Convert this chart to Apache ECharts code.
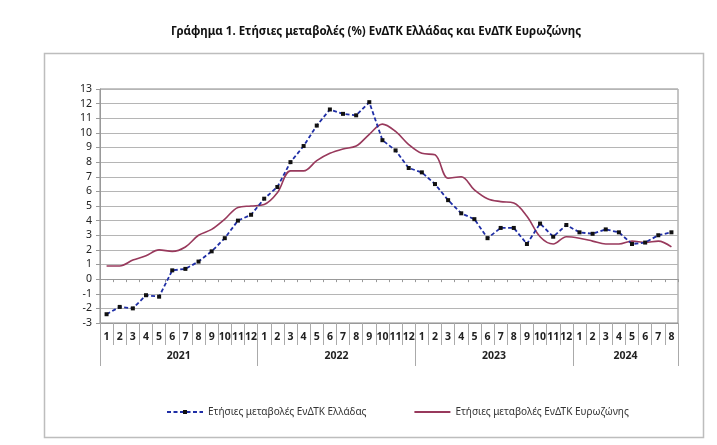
<!DOCTYPE html>
<html><head><meta charset="utf-8">
<script src="https://cdn.jsdelivr.net/npm/echarts@6/dist/echarts.min.js"></script>
<style>html,body{margin:0;padding:0;background:#fff}#c{width:717px;height:445px}</style>
</head><body><div id="c"></div>
<script>
const titleText = 'Γράφημα 1. Ετήσιες μεταβολές (%) ΕνΔΤΚ Ελλάδας και ΕνΔΤΚ Ευρωζώνης';
const years = ['2021', '2022', '2023', '2024'];
const monthsPerYear = [12, 12, 12, 8];
const seriesNames = ['Ετήσιες μεταβολές ΕνΔΤΚ Ελλάδας', 'Ετήσιες μεταβολές ΕνΔΤΚ Ευρωζώνης'];
const greece = [
  -2.4, -1.9, -2.0, -1.1, -1.2, 0.6, 0.7, 1.2, 1.9, 2.8, 4.0, 4.4,
  5.5, 6.3, 8.0, 9.1, 10.5, 11.6, 11.3, 11.2, 12.1, 9.5, 8.8, 7.6,
  7.3, 6.5, 5.4, 4.5, 4.1, 2.8, 3.5, 3.5, 2.4, 3.8, 2.9, 3.7,
  3.2, 3.1, 3.4, 3.2, 2.4, 2.5, 3.0, 3.2
];
const eurozone = [
  0.9, 0.9, 1.3, 1.6, 2.0, 1.9, 2.2, 3.0, 3.4, 4.1, 4.9, 5.0,
  5.1, 5.9, 7.4, 7.4, 8.1, 8.6, 8.9, 9.1, 9.9, 10.6, 10.1, 9.2,
  8.6, 8.5, 6.9, 7.0, 6.1, 5.5, 5.3, 5.2, 4.3, 2.9, 2.4, 2.9,
  2.8, 2.6, 2.4, 2.4, 2.6, 2.5, 2.6, 2.2
];
const yMin = -3, yMax = 13, yStep = 1;

// build category list
const cats = [], monthLabels = [], yearOfIdx = [], yearStart = new Set(), yearCenter = {};
let idx = 0;
years.forEach((y, k) => {
  yearStart.add(idx);
  yearCenter[idx + Math.floor((monthsPerYear[k] - 1) / 2)] = y;
  for (let m = 1; m <= monthsPerYear[k]; m++) {
    cats.push(y + '-' + m); monthLabels.push(String(m)); yearOfIdx.push(y); idx++;
  }
});

const FONT = 'Noto Sans';
const chart = echarts.init(document.getElementById('c'), null, {renderer: 'canvas'});
const option = {
  backgroundColor: '#fff',
  animation: false,
  textStyle: {fontFamily: FONT},
  title: {
    text: titleText, left: 371, top: 21, textAlign: 'center',
    textStyle: {fontFamily: FONT, fontSize: 11.5, fontWeight: 'bold', color: '#111'}
  },
  graphic: [{
    type: 'rect', shape: {x: 44.5, y: 53.5, width: 659, height: 384},
    style: {fill: null, stroke: '#bdbdbd', lineWidth: 1.5}, silent: true, z: -1
  }],
  legend: {
    left: 161, top: 402, itemGap: 47, itemWidth: 36, itemHeight: 5,
    textStyle: {fontFamily: FONT, fontSize: 10, color: '#333'},
    data: [
      {name: seriesNames[0]},
      {name: seriesNames[1], itemStyle: {opacity: 0}}
    ]
  },
  grid: {left: 100, right: 39, top: 89, bottom: 122, show: true, borderColor: '#8a8a8a', borderWidth: 1},
  xAxis: [
    { // month labels row
      type: 'category', data: cats, position: 'bottom', boundaryGap: true,
      axisLine: {onZero: false, show: true, lineStyle: {color: '#999'}},
      axisTick: {show: true, interval: 0, length: 22, lineStyle: {color: '#aaa'}},
      axisLabel: {interval: 0, margin: 9, fontFamily: FONT, fontSize: 10.5, fontWeight: 'bold', color: '#222',
        formatter: (v, i) => monthLabels[i]},
      splitLine: {show: false}
    },
    { // year labels row
      type: 'category', data: cats, position: 'bottom', boundaryGap: true,
      axisLine: {onZero: false, show: false},
      axisTick: {show: true, length: 43, interval: (i) => yearStart.has(i), lineStyle: {color: '#aaa'}},
      axisLabel: {margin: 28, fontFamily: FONT, fontSize: 10.5, fontWeight: 'bold', color: '#222',
        interval: (i) => yearCenter[i] !== undefined,
        formatter: (v, i) => yearOfIdx[i], padding: [0, 0, 0, 13.1]},
      splitLine: {show: false}
    },
    { // zero line with small ticks
      type: 'category', data: cats, position: 'bottom', boundaryGap: true,
      axisLine: {onZero: true, show: true, lineStyle: {color: '#999'}},
      axisTick: {show: true, interval: 0, length: 3, inside: false, lineStyle: {color: '#999'}},
      axisLabel: {show: false}, splitLine: {show: false}
    }
  ],
  yAxis: {
    type: 'value', min: yMin, max: yMax, interval: yStep,
    axisLine: {show: true, lineStyle: {color: '#999'}},
    axisTick: {show: true, length: 4, lineStyle: {color: '#999'}},
    axisLabel: {fontFamily: FONT, fontSize: 10.5, color: '#222', margin: 8},
    splitLine: {show: true, lineStyle: {color: '#b5b5b5', width: 1.2}}
  },
  series: [
    {
      name: seriesNames[0], type: 'line', data: greece, xAxisIndex: 0,
      symbol: 'rect', symbolSize: 4, showSymbol: true,
      lineStyle: {color: '#1f2ea6', width: 1.8, type: [4, 2.5]},
      itemStyle: {color: '#111'}, color: '#1f2ea6', z: 3
    },
    {
      name: seriesNames[1], type: 'line', data: eurozone, xAxisIndex: 0,
      smooth: 0.35, symbol: 'none', showSymbol: false,
      lineStyle: {color: '#98395c', width: 1.6}, itemStyle: {color: '#98395c'}, color: '#98395c', z: 2
    }
  ]
};
chart.setOption(option);
</script></body></html>
